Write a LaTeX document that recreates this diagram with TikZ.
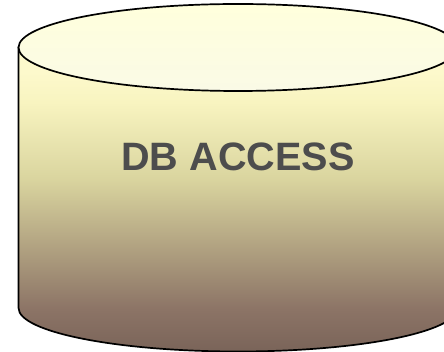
\documentclass[tikz,border=0pt]{standalone}
\usepackage{fontspec}
\setmainfont{Liberation Sans}
\definecolor{textgrey}{HTML}{4D4D4D}
\definecolor{lidtop}{HTML}{FFFFDC}
\definecolor{lidbot}{HTML}{FAFAE6}
\definecolor{sa}{HTML}{7A6459}
\definecolor{sb}{HTML}{8C7466}
\definecolor{sc}{HTML}{DAD59F}
\definecolor{sd}{HTML}{F8F4C0}
\definecolor{se}{HTML}{FDF9CC}
\pgfdeclareverticalshading{bodyshade}{100bp}{
  color(0bp)=(sa);
  color(25bp)=(sa);
  color(32bp)=(sb);
  color(53.5bp)=(sc);
  color(66bp)=(sd);
  color(71bp)=(se);
  color(100bp)=(se)}
\tikzset{
  outline/.style={draw=black,line width=1.7pt},
  body/.style={outline,shading=bodyshade},
  lid/.style={outline,top color=lidtop,bottom color=lidbot},
  caption/.style={font=\bfseries\fontsize{39.6}{40}\selectfont,text=textgrey,inner sep=0pt}
}
\begin{document}
\begin{tikzpicture}[x=1pt,y=-1pt]
  \useasboundingbox (0,0) rectangle (444,352);
  \clip (0,0) rectangle (444,352);
  \path[body] (18.5,47.5) -- (18.5,308) arc[start angle=180,end angle=360,x radius=219.5,y radius=-43.5] -- (457.5,47.5) -- cycle;
  \path[lid] (238,47.5) ellipse[x radius=219.5,y radius=43.5];
  \node[caption] (label) at (238,157) {DB ACCESS};
\end{tikzpicture}
\end{document}
